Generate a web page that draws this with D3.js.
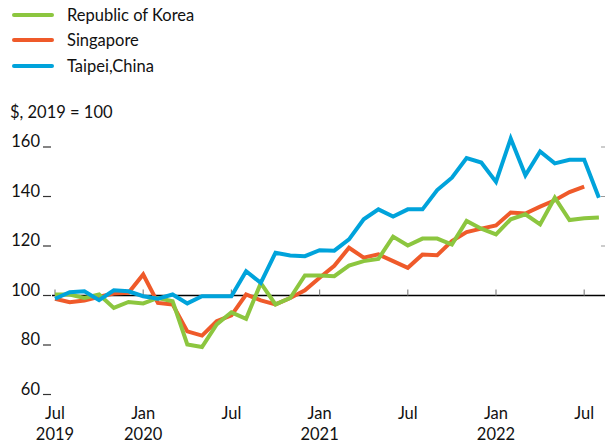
<!DOCTYPE html>
<html><head><meta charset="utf-8">
<script src="https://cdn.jsdelivr.net/npm/d3@7"></script>
<style>html,body{margin:0;padding:0;background:#fff;} svg{display:block;font-family:Lato,"Open Sans",sans-serif;}</style>
</head><body>
<svg id="c" width="605" height="444"></svg>
<script>
// Months from Jul 2019 (index 0) to Aug 2022 (index 37)
const startMonth = "2019-07";
const korea = [100.4,100.4,99,100.4,95,97.4,96.8,99,97.7,80.2,79.2,88.3,93.2,90.6,105,96.4,99,108.1,108.1,107.8,112.1,113.9,114.8,123.8,120.2,123,123,120.6,130.1,127,124.7,130.8,132.8,128.7,139.5,130.5,131.2,131.5];
const singapore = [98.7,97.3,98,99.5,100.8,101.1,108.5,97,96.4,85.5,83.8,89.6,92,100.4,98,96.4,99,102.1,107.2,112,119.3,115.3,116.6,113.9,111.2,116.6,116.3,122,125.6,127,128.3,133.5,133.1,135.9,138.5,141.8,144];
const taipei = [98.7,101.3,101.7,98.1,102.1,101.7,99.7,98.7,100.4,96.8,99.7,99.7,99.7,109.8,105.1,117.3,116.2,115.9,118.3,118.1,122.7,130.8,134.8,131.9,134.8,134.8,142.6,147.6,155.5,153.7,145.9,163.4,148.6,158.2,153.4,154.8,154.8,139.5];
const seriesNames = ["Republic of Korea","Singapore","Taipei,China"];
const seriesColors = ["#8cc63f","#ef5a2a","#00a3db"];
const yTicks = [60,80,100,120,140,160];
const xTickIdx = [0,6,12,18,24,30,36];
const xTickMonth = ["Jul","Jan","Jul","Jan","Jul","Jan","Jul"];
const xTickYear = ["2019","2020","","2021","","2022",""];
const unitLabel = "$, 2019 = 100";

const svg = d3.select("#c");
const x = d3.scaleLinear().domain([0,36]).range([55,584.2]);
const y = d3.scaleLinear().domain([60,160]).range([394.5,147]);
const fs = 16.5;

// y axis labels with underscore ticks
const yg = svg.append("g");
yTicks.forEach(t=>{
  yg.append("text").attr("x",40).attr("y",y(t)).attr("text-anchor","end")
    .attr("font-size",fs).attr("fill","#111").text(t);
  yg.append("line").attr("x1",43).attr("x2",51).attr("y1",y(t)).attr("y2",y(t))
    .attr("stroke","#333").attr("stroke-width",1.2);
  if(t>=100) yg.append("line").attr("x1",601).attr("x2",605).attr("y1",y(t)).attr("y2",y(t))
    .attr("stroke","#999").attr("stroke-width",1);
});

// baseline at 100
svg.append("line").attr("x1",52).attr("x2",605).attr("y1",y(100)).attr("y2",y(100))
  .attr("stroke","#000").attr("stroke-width",1.3);
// x ticks
xTickIdx.forEach((m,i)=>{
  svg.append("line").attr("x1",x(m)).attr("x2",x(m)).attr("y1",y(100)-6).attr("y2",y(100))
    .attr("stroke","#888").attr("stroke-width",1.2);
  svg.append("text").attr("x",x(m)).attr("y",419).attr("text-anchor","middle")
    .attr("font-size",fs).attr("fill","#111").text(xTickMonth[i]);
  if(xTickYear[i]) svg.append("text").attr("x",x(m)).attr("y",440).attr("text-anchor","middle")
    .attr("font-size",fs).attr("fill","#111").text(xTickYear[i]);
});

// lines
const line = d3.line().x((d,i)=>x(i)).y(d=>y(d));
const data = [korea,singapore,taipei];
[1,0,2].forEach(k=>{
  svg.append("path").datum(data[k]).attr("d",line).attr("fill","none")
    .attr("stroke",seriesColors[k]).attr("stroke-width",4).attr("stroke-linejoin","miter");
});

// legend
const legY = [15,40,66];
seriesNames.forEach((n,i)=>{
  svg.append("line").attr("x1",14).attr("x2",52).attr("y1",legY[i]).attr("y2",legY[i])
    .attr("stroke",seriesColors[i]).attr("stroke-width",4).attr("stroke-linecap","round");
  svg.append("text").attr("x",67).attr("y",legY[i]+6).attr("font-size",fs).attr("fill","#111").text(n);
});
svg.append("text").attr("x",10).attr("y",118).attr("font-size",fs).attr("fill","#111").text(unitLabel);
</script>
</body></html>
